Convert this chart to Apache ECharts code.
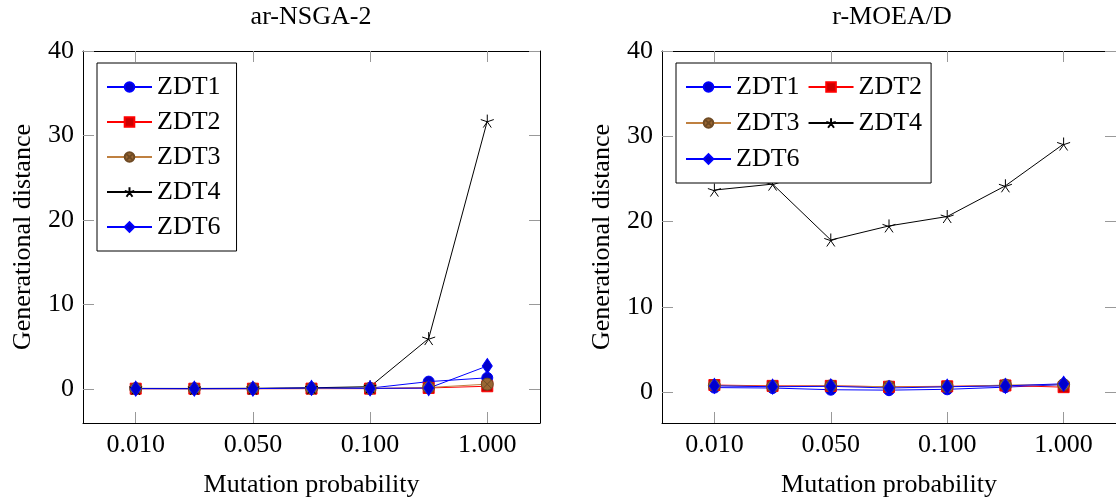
<!DOCTYPE html>
<html>
<head>
<meta charset="utf-8">
<script src="https://cdn.jsdelivr.net/npm/echarts@6/dist/echarts.min.js"></script>
<style>
html, body { margin: 0; padding: 0; background: #fff; }
#chart { width: 1116px; height: 503px; }
</style>
</head>
<body>
<div id="chart"></div>
<script>
// x positions are the step index of each mutation probability
var steps = [0, 1, 2, 3, 4, 5, 6];
var tickSteps = [0, 2, 4, 6];
var tickLabels = ['0.010', '0.050', '0.100', '1.000'];
var yTicks = [0, 10, 20, 30, 40];
var names = ['ZDT1', 'ZDT2', 'ZDT3', 'ZDT4', 'ZDT6'];

// ar-NSGA-2
var nsgaZdt1 = [0.03, 0.02, 0.03, 0.06, 0.08, 0.85, 1.3];
var nsgaZdt2 = [0.01, 0.01, 0.01, 0.02, 0.02, 0.1, 0.3];
var nsgaZdt3 = [0.02, 0.01, 0.02, 0.03, 0.04, 0.15, 0.55];
var nsgaZdt4 = [0.05, 0.04, 0.06, 0.12, 0.25, 5.95, 31.7];
var nsgaZdt6 = [0.02, 0.01, 0.02, 0.1, 0.05, 0.08, 2.7];

// r-MOEA/D
var moeaZdt1 = [0.55, 0.5, 0.3, 0.25, 0.35, 0.6, 0.9];
var moeaZdt2 = [0.85, 0.75, 0.75, 0.65, 0.7, 0.8, 0.6];
var moeaZdt3 = [0.8, 0.7, 0.75, 0.65, 0.65, 0.85, 0.9];
var moeaZdt4 = [23.7, 24.4, 17.85, 19.5, 20.6, 24.2, 29.1];
var moeaZdt6 = [0.75, 0.65, 0.7, 0.5, 0.65, 0.75, 1.0];

var font = 'Liberation Serif';
var starPath = 'path://M0,0L0,-10M0,0L9.51,-3.09M0,0L5.88,8.09M0,0L-5.88,8.09M0,0L-9.51,-3.09';
var otimesPath = 'path://M10,0A10,10,0,1,1,-10,0A10,10,0,1,1,10,0ZM-7.07,-7.07L7.07,7.07M7.07,-7.07L-7.07,7.07';

var looks = {
    ZDT1: { symbol: 'circle', size: 11, line: '#0000ff', fill: '#0000cc', border: '#0000ff' },
    ZDT2: { symbol: 'rect', size: 11, line: '#ff0000', fill: '#cc0000', border: '#ff0000' },
    ZDT3: { symbol: otimesPath, size: 12, line: '#bf8040', fill: '#996633', border: '#6e4a24' },
    ZDT4: { symbol: starPath, size: 13, line: '#000000', fill: '#000000', border: '#000000' },
    ZDT6: { symbol: 'diamond', size: [10, 15], line: '#0000ff', fill: '#0000cc', border: '#0000ff' }
};

function makeSeries(name, values, g) {
    var lk = looks[name];
    return {
        name: name,
        type: 'line',
        xAxisIndex: 2 * g,
        yAxisIndex: 2 * g,
        data: steps.map(function (s, i) { return [s, values[i]]; }),
        symbol: lk.symbol,
        symbolSize: lk.size,
        showAllSymbol: true,
        lineStyle: { color: lk.line, width: 1 },
        itemStyle: { color: lk.fill, borderColor: lk.border, borderWidth: 1 }
    };
}

function xAxes(g) {
    var base = {
        type: 'value', gridIndex: g, min: -0.9, max: 6.9,
        splitLine: { show: false },
        axisLine: { show: true, onZero: false, lineStyle: { color: '#000', width: 1 } },
        axisTick: { show: true, inside: true, length: 11, customValues: tickSteps, lineStyle: { color: '#999' } }
    };
    var bottom = Object.assign({}, base, {
        position: 'bottom',
        name: 'Mutation probability', nameLocation: 'middle', nameGap: 49,
        nameTextStyle: { fontFamily: font, fontSize: 26, color: '#000' },
        axisLabel: {
            customValues: tickSteps, margin: 9, fontFamily: font, fontSize: 26, color: '#000',
            formatter: function (v) { return tickLabels[tickSteps.indexOf(v)]; }
        }
    });
    var top = Object.assign({}, base, { position: 'top', axisLabel: { show: false } });
    return [bottom, top];
}

function yAxes(g, min) {
    var base = {
        type: 'value', gridIndex: g, min: min, max: 40,
        splitLine: { show: false },
        axisLine: { show: true, onZero: false, lineStyle: { color: '#000', width: 1 } },
        axisTick: { show: true, inside: true, length: 11, customValues: yTicks, lineStyle: { color: '#999' } }
    };
    var left = Object.assign({}, base, {
        position: 'left',
        name: 'Generational distance', nameLocation: 'middle', nameGap: 47, nameRotate: 90,
        nameTextStyle: { fontFamily: font, fontSize: 26, color: '#000' },
        axisLabel: { customValues: yTicks, margin: 9, fontFamily: font, fontSize: 26, color: '#000' }
    });
    var right = Object.assign({}, base, { position: 'right', axisLabel: { show: false } });
    return [left, right];
}

function legendBox(left, orient, width, padding) {
    return {
        data: names, orient: orient, left: left, top: 63, width: width,
        padding: padding, itemGap: orient === 'vertical' ? 7 : 8,
        itemWidth: 45, itemHeight: 12, selectedMode: false,
        borderColor: '#000', borderWidth: 1, borderRadius: 0, backgroundColor: '#fff',
        textStyle: { fontFamily: font, fontSize: 26, lineHeight: 28, color: '#000' }
    };
}

var chart = echarts.init(document.getElementById('chart'));
var option = {
    animation: false,
    title: [
        { text: 'ar-NSGA-2', left: 311, top: 4, textAlign: 'center', padding: 0,
          textStyle: { fontFamily: font, fontSize: 26, fontWeight: 'normal', color: '#000' } },
        { text: 'r-MOEA/D', left: 892, top: 4, textAlign: 'center', padding: 0,
          textStyle: { fontFamily: font, fontSize: 26, fontWeight: 'normal', color: '#000' } }
    ],
    legend: [
        legendBox(97, 'vertical', 'auto', [10, 16, 10, 9]),
        legendBox(676, 'horizontal', 245, [10, 9, 10, 9])
    ],
    grid: [
        { left: 83, top: 51, width: 457, height: 378 },
        { left: 662, top: 51, width: 460, height: 378 }
    ],
    xAxis: xAxes(0).concat(xAxes(1)),
    yAxis: yAxes(0, -4.05).concat(yAxes(1, -3.6)),
    series: [
        makeSeries('ZDT1', nsgaZdt1, 0),
        makeSeries('ZDT2', nsgaZdt2, 0),
        makeSeries('ZDT3', nsgaZdt3, 0),
        makeSeries('ZDT4', nsgaZdt4, 0),
        makeSeries('ZDT6', nsgaZdt6, 0),
        makeSeries('ZDT1', moeaZdt1, 1),
        makeSeries('ZDT2', moeaZdt2, 1),
        makeSeries('ZDT3', moeaZdt3, 1),
        makeSeries('ZDT4', moeaZdt4, 1),
        makeSeries('ZDT6', moeaZdt6, 1)
    ]
};
chart.setOption(option);
</script>
</body>
</html>
